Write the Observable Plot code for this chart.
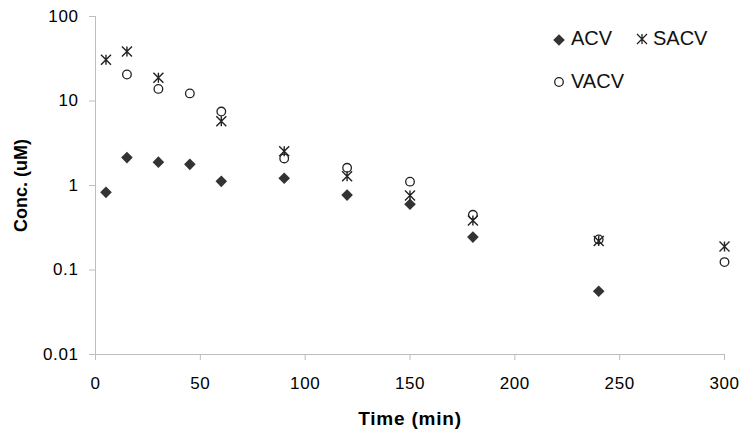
<!DOCTYPE html>
<html><head><meta charset="utf-8">
<script src="https://cdn.jsdelivr.net/npm/d3@7"></script>
<script src="https://cdn.jsdelivr.net/npm/@observablehq/plot@0.6"></script>
<style>
body{margin:0;background:#fff;}
#chart{position:relative;width:750px;height:440px;font-family:"Liberation Sans",Arial,sans-serif;}
#chart g[aria-label="y-axis label"] text{font-weight:bold;font-size:18px;}
#chart g[aria-label="x-axis label"] text{font-weight:bold;font-size:19px;letter-spacing:0.8px;}
#chart g[aria-label="y-axis tick label"] text, #chart g[aria-label="x-axis tick label"] text{letter-spacing:0.6px;}
#chart g[aria-label="y-axis tick"], #chart g[aria-label="x-axis tick"]{stroke:#bdbdbd;}
.leg{position:absolute;font-size:20px;line-height:20px;color:#111;white-space:nowrap;}
.legsym{position:absolute;overflow:visible;}
</style></head><body><div id="chart"></div>
<script>
// ---- data ----
const times = [5, 15, 30, 45, 60, 90, 120, 150, 180, 240, 300];
const acv  = [0.83, 2.14, 1.89, 1.78, 1.12, 1.22, 0.77, 0.6, 0.245, 0.056, null];
const sacv = [30.7, 38.5, 18.8, null, 5.77, 2.55, 1.29, 0.76, 0.385, 0.22, 0.19];
const vacv = [null, 20.6, 13.9, 12.3, 7.5, 2.09, 1.62, 1.11, 0.45, 0.23, 0.124];
const seriesNames = ["ACV", "SACV", "VACV"];
const xTicks = [0, 50, 100, 150, 200, 250, 300];
const yTicks = [0.01, 0.1, 1, 10, 100];
const yTickLabels = ["0.01", "0.1", "1", "10", "100"];

const toRows = (vals) => times.map((t, i) => ({t, v: vals[i]})).filter(d => d.v != null);
const acvRows = toRows(acv), sacvRows = toRows(sacv), vacvRows = toRows(vacv);

// custom symbols
const diamondSym = {draw(ctx, size) { const h = Math.sqrt(size / Math.PI);
  ctx.moveTo(0, -h); ctx.lineTo(h, 0); ctx.lineTo(0, h); ctx.lineTo(-h, 0); ctx.closePath(); }};
const starSym = {draw(ctx, size) { const r = Math.sqrt(size / Math.PI);
  ctx.moveTo(0, -r); ctx.lineTo(0, r);
  ctx.moveTo(-r, -r); ctx.lineTo(r, r);
  ctx.moveTo(-r, r); ctx.lineTo(r, -r); }};

const chart = Plot.plot({
  width: 750, height: 440,
  marginLeft: 95, marginRight: 26, marginTop: 16, marginBottom: 86,
  style: {fontSize: "17px", fontFamily: "'Liberation Sans', Arial, sans-serif", color: "#000", background: "white", overflow: "visible"},
  x: {domain: [0, 300]},
  y: {type: "log", domain: [0.01, 100]},
  marks: [
    Plot.ruleX([0], {stroke: "#bdbdbd"}),
    Plot.ruleY([0.01], {stroke: "#bdbdbd"}),
    Plot.axisY({ticks: yTicks, tickFormat: d => yTickLabels[yTicks.indexOf(d)], tickSize: 6, tickPadding: 11,
      label: "Conc. (uM)", labelAnchor: "center", labelArrow: "none", labelOffset: 81}),
    Plot.axisX({ticks: xTicks, tickSize: 6, tickPadding: 16,
      label: "Time (min)", labelAnchor: "center", labelArrow: "none", labelOffset: 70}),
    Plot.dot(acvRows, {x: "t", y: "v", symbol: diamondSym, r: 5.8, fill: "#333", stroke: "none"}),
    Plot.dot(vacvRows, {x: "t", y: "v", symbol: "circle", r: 4.3, fill: "none", stroke: "#222", strokeWidth: 1.3}),
    Plot.dot(sacvRows, {x: "t", y: "v", symbol: starSym, r: 5, fill: "none", stroke: "#222", strokeWidth: 1.4})
  ]
});
const root = document.getElementById("chart");
root.appendChild(chart);

// legend (HTML overlay inside plot area)
const legendItems = [
  {name: seriesNames[0], sym: diamondSym, fill: "#333", stroke: "none", r: 5.8, sx: 559, sy: 40, tx: 571, ty: 28},
  {name: seriesNames[1], sym: starSym, fill: "none", stroke: "#222", r: 5, sx: 642, sy: 39, tx: 653, ty: 28},
  {name: seriesNames[2], sym: d3.symbolCircle, fill: "none", stroke: "#222", r: 4.3, sx: 559, sy: 82, tx: 571, ty: 71}
];
for (const it of legendItems) {
  const svg = d3.create("svg").attr("class", "legsym").attr("width", 20).attr("height", 20)
    .style("left", (it.sx - 10) + "px").style("top", (it.sy - 10) + "px");
  svg.append("path").attr("transform", "translate(10,10)")
    .attr("d", d3.symbol(it.sym, it.r * it.r * Math.PI)())
    .attr("fill", it.fill).attr("stroke", it.stroke).attr("stroke-width", 1.3);
  root.appendChild(svg.node());
  const lab = document.createElement("div");
  lab.className = "leg"; lab.textContent = it.name;
  lab.style.left = it.tx + "px"; lab.style.top = it.ty + "px";
  root.appendChild(lab);
}
</script>
</body></html>
